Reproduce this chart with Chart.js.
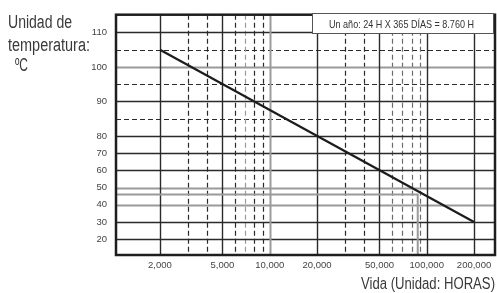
<!DOCTYPE html>
<html>
<head>
<meta charset="utf-8">
<script src="https://cdn.jsdelivr.net/npm/chart.js@4.4.1/dist/chart.umd.min.js"></script>
<style>
  html, body { margin: 0; padding: 0; background: #fff; }
  canvas { display: block; }
</style>
</head>
<body>
<canvas id="lifeChart" width="497" height="293"></canvas>
<script>
const lifeHours = [2000, 200000];
const lifeTemps = [105, 30];
const xTickHours = [2000, 5000, 10000, 20000, 50000, 100000, 200000];
const xMinorHours = [3000, 4000, 6000, 7000, 8000, 9000, 30000, 40000, 60000, 70000, 80000, 90000];
const yTickTemps = [20, 30, 40, 50, 60, 70, 80, 90, 100, 110];
const yHalfTemps = [85, 95, 105];
const tenYearHours = 87600;
const tenYearTemp = 46;

// above 80 the temperature axis is drawn at double scale
function toAxis(t) {
  return t <= 80 ? t : 80 + (t - 80) * 2;
}
function fromAxis(v) {
  return v <= 80 ? v : 80 + (v - 80) / 2;
}

const FONT = "'Liberation Sans', Arial, sans-serif";
const DARK = "#2a2a2a";
const LIGHT = "#9a9a9a";

const gridPlugin = {
  id: "lifeGrid",
  beforeDatasetsDraw(chart) {
    const { ctx, chartArea: a, scales: { x, y } } = chart;
    const lightX = [7000, 10000];
    const midX = [60000, 70000, 80000, 90000];
    const lightY = [40, 50, 100];
    ctx.save();
    ctx.lineCap = "butt";

    function vline(h, color, dash, w) {
      const px = Math.round(x.getPixelForValue(h)) + 0.5;
      ctx.strokeStyle = color;
      ctx.lineWidth = w;
      ctx.setLineDash(dash);
      ctx.beginPath();
      ctx.moveTo(px, a.top);
      ctx.lineTo(px, a.bottom);
      ctx.stroke();
    }
    function hline(t, color, dash, w) {
      const py = Math.round(y.getPixelForValue(toAxis(t))) + 0.5;
      ctx.strokeStyle = color;
      ctx.lineWidth = w;
      ctx.setLineDash(dash);
      ctx.beginPath();
      ctx.moveTo(a.left, py);
      ctx.lineTo(a.right, py);
      ctx.stroke();
    }

    yHalfTemps.forEach(t => hline(t, DARK, [5, 3], 1.2));
    xMinorHours.forEach(h => {
      const c = lightX.includes(h) ? LIGHT : midX.includes(h) ? "#6a6a6a" : DARK;
      vline(h, c, [5, 3], 1.2);
    });
    yTickTemps.forEach(t => hline(t, lightY.includes(t) ? LIGHT : DARK, [], lightY.includes(t) ? 2 : 1.4));
    xTickHours.forEach(h => vline(h, lightX.includes(h) ? LIGHT : DARK, [], lightX.includes(h) ? 2 : 1.4));

    // ten years of continuous use
    const mx = x.getPixelForValue(tenYearHours);
    const my = y.getPixelForValue(toAxis(tenYearTemp));
    ctx.strokeStyle = LIGHT;
    ctx.lineWidth = 2;
    ctx.setLineDash([]);
    ctx.beginPath();
    ctx.moveTo(a.left, my);
    ctx.lineTo(mx, my);
    ctx.lineTo(mx, a.bottom);
    ctx.stroke();

    // frame
    ctx.strokeStyle = "#1e1e1e";
    ctx.lineWidth = 2.5;
    ctx.strokeRect(a.left, a.top, a.right - a.left, a.bottom - a.top);
    ctx.restore();
  },
  afterDraw(chart) {
    const { ctx } = chart;
    ctx.save();
    ctx.fillStyle = "#3a3a3a";
    ctx.textBaseline = "alphabetic";
    ctx.textAlign = "left";
    ctx.font = "18px " + FONT;
    ctx.fillText("Unidad de", 8, 28, 64);
    ctx.fillText("temperatura:", 8, 51, 82);
    ctx.fillText("ºC", 15, 71, 13);

    ctx.font = "16px " + FONT;
    ctx.textAlign = "right";
    ctx.fillText("Vida (Unidad: HORAS)", 495, 289, 134);

    // note box
    ctx.fillStyle = "#fff";
    ctx.fillRect(312, 13, 181, 20);
    ctx.strokeStyle = "#555";
    ctx.lineWidth = 1;
    ctx.strokeRect(312.5, 13.5, 181, 20);
    ctx.fillStyle = "#333";
    ctx.textAlign = "center";
    ctx.font = "11px " + FONT;
    ctx.fillText("Un año: 24 H X 365 DÍAS = 8.760 H", 401.5, 28, 145);
    ctx.restore();
  }
};

new Chart(document.getElementById("lifeChart"), {
  type: "line",
  data: {
    datasets: [
      {
        label: "Vida",
        data: lifeHours.map((h, i) => ({ x: h, y: toAxis(lifeTemps[i]) })),
        borderColor: "#1c1c1c",
        borderWidth: 2.2,
        pointRadius: 0,
        tension: 0,
        fill: false,
      },
    ],
  },
  options: {
    responsive: false,
    animation: false,
    devicePixelRatio: 1,
    layout: {
      padding: { top: 11, right: 2, left: 0, bottom: 0 },
    },
    plugins: {
      legend: { display: false },
      tooltip: { enabled: false },
    },
    scales: {
      x: {
        type: "logarithmic",
        min: 1050,
        max: 272000,
        grid: { display: false, drawTicks: false },
        border: { display: false },
        afterBuildTicks: (scale) => {
          scale.ticks = xTickHours.map(v => ({ value: v }));
        },
        afterFit: (scale) => {
          scale.height = 38;
        },
        ticks: {
          autoSkip: false,
          maxRotation: 0,
          padding: 5,
          color: "#444",
          font: { family: FONT, size: 9.5 },
          callback: (value) => Number(value).toLocaleString("en-US"),
        },
      },
      y: {
        type: "linear",
        min: 10.9,
        max: 150.3,
        grid: { display: false, drawTicks: false },
        border: { display: false },
        afterBuildTicks: (scale) => {
          scale.ticks = yTickTemps.map(t => ({ value: toAxis(t) }));
        },
        afterFit: (scale) => {
          scale.width = 116;
        },
        ticks: {
          autoSkip: false,
          padding: 9,
          color: "#444",
          font: { family: FONT, size: 9.5 },
          callback: (value) => String(fromAxis(value)),
        },
      },
    },
  },
  plugins: [gridPlugin],
});
</script>
</body>
</html>
